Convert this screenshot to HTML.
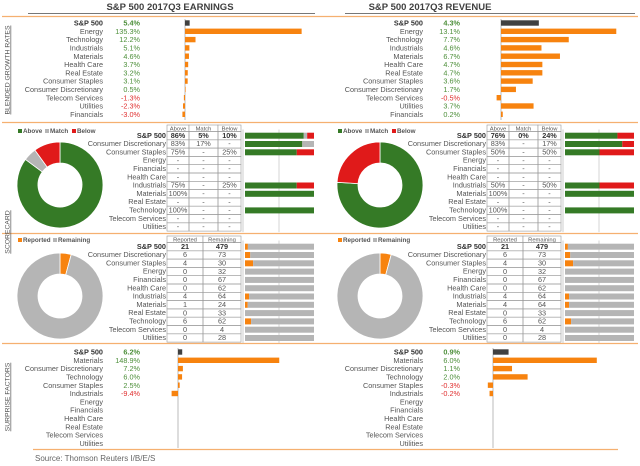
<!DOCTYPE html>
<html><head><meta charset="utf-8"><style>
html,body{margin:0;padding:0;background:#fff;width:640px;height:466px;overflow:hidden}
svg{display:block;font-family:"Liberation Sans",sans-serif}
</style></head><body>
<svg id="c" width="640" height="466" viewBox="0 0 640 466" xmlns="http://www.w3.org/2000/svg"></svg>
<script>
const growthLabels = ["S&P 500","Energy","Technology","Industrials","Materials","Health Care","Real Estate","Consumer Staples","Consumer Discretionary","Telecom Services","Utilities","Financials"];
const earnGrowth = [5.4,135.3,12.2,5.1,4.6,3.7,3.2,3.1,0.5,-1.3,-2.3,-3.0];
const revGrowth = [4.3,13.1,7.7,4.6,6.7,4.7,4.7,3.6,1.7,-0.5,3.7,0.2];
const scoreLabels = ["S&P 500","Consumer Discretionary","Consumer Staples","Energy","Financials","Health Care","Industrials","Materials","Real Estate","Technology","Telecom Services","Utilities"];
const earnAbove = [86,83,75,null,null,null,75,100,null,100,null,null];
const earnMatch = [5,17,null,null,null,null,null,null,null,null,null,null];
const earnBelow = [10,null,25,null,null,null,25,null,null,null,null,null];
const revAbove = [76,83,50,null,null,null,50,100,null,100,null,null];
const revMatch = [0,null,null,null,null,null,null,null,null,null,null,null];
const revBelow = [24,17,50,null,null,null,50,null,null,null,null,null];
const earnReported = [21,6,4,0,0,0,4,1,0,6,0,0];
const earnRemaining = [479,73,30,32,67,62,64,24,33,62,4,28];
const revReported = [21,6,4,0,0,0,4,4,0,6,0,0];
const revRemaining = [479,73,30,32,67,62,64,64,33,62,4,28];
const surpriseLabels = ["S&P 500","Materials","Consumer Discretionary","Technology","Consumer Staples","Industrials","Energy","Financials","Health Care","Real Estate","Telecom Services","Utilities"];
const earnSurprise = [6.2,148.9,7.2,6.0,2.5,-9.4,null,null,null,null,null,null];
const revSurprise = [0.9,6.0,1.1,2.0,-0.3,-0.2,null,null,null,null,null,null];

const NS="http://www.w3.org/2000/svg";
const svg=document.getElementById('c');
const ORANGE="#f7830f",DARK="#404040",GREEN="#357a26",RED="#e01a1a",GRAY="#b5b5b5",TXT="#555",TGREEN="#4d8f3a",TRED="#e03030";
const RH=8.3;
function mk(tag,attrs,parent){const e=document.createElementNS(NS,tag);for(const k in attrs)e.setAttribute(k,attrs[k]);(parent||svg).appendChild(e);return e;}
function txt(x,y,s,size,fill,anchor,weight,parent){const t=mk('text',{x:x,y:y,'font-size':size,fill:fill,'text-anchor':anchor||'start','font-weight':weight||'normal'},parent);t.textContent=s;return t;}
function fmt(v){return v.toFixed(1)+'%';}

// titles & separators
[[170,"S&P 500 2017Q3 EARNINGS",28,315],[430,"S&P 500 2017Q3 REVENUE",345,635]].forEach(function(d,i){
  const t=txt(d[0],10,d[1],9.5,DARK,'middle','bold');
  
  
  const l=mk('line',{x1:d[2],x2:d[3],y1:13.5,y2:13.5,stroke:'#777','stroke-width':1});
  
  
});
[[2,638,16.5],[2,638,122.5],[2,638,233.5],[2,638,343.5],[33,618,449.5]].forEach(function(d){
  const l=mk('line',{x1:d[0],x2:d[1],y1:d[2],y2:d[2],stroke:'#f5b070','stroke-width':1.2});
  
  
});
// vertical section labels
[["BLENDED GROWTH RATES",70,'growth-section-label'],["SCORECARD",232,'scorecard-section-label'],["SURPRISE FACTORS",397,'surprise-section-label']].forEach(function(d){
  const t=mk('text',{x:0,y:0,'font-size':6.8,fill:TXT,'text-anchor':'middle','text-decoration':'underline',transform:'translate(9.5,'+d[1]+') rotate(-90)'});
  t.textContent=d[0];
  
  
});

// diverging bar chart with labels/values
function barChart(ox,labels,vals,y0,axisX,scale,axisTop,axisBot,name){
  const g=mk('g',{});
  
  
  const ax=mk('line',{x1:axisX,x2:axisX,y1:axisTop,y2:axisBot,stroke:'#aaa','stroke-width':0.8},g);
  
  
  labels.forEach(function(lab,i){
    const cy=y0+i*RH;
    const lt=txt(ox+103,cy+2.6,lab,7.3,i?TXT:'#333','end',i?'normal':'bold',g);
    
    
    const v=vals[i];
    if(v===null)return;
    const vt=txt(ox+140,cy+2.6,fmt(v),7.3,v<0?TRED:TGREEN,'end',i?'normal':'bold',g);
    
    
    const w=Math.abs(v)*scale;
    const b=mk('rect',{x:v<0?axisX-w:axisX,y:cy-2.7,width:Math.max(w,0.6),height:5.4,fill:i?ORANGE:DARK},g);
    
    
  });
}
barChart(0,growthLabels,earnGrowth,23,185,0.862,19,120,'earnings-growth-chart');
barChart(320,growthLabels,revGrowth,23,501,8.8,19,120,'revenue-growth-chart');
barChart(0,surpriseLabels,earnSurprise,352,178,0.68,348,448,'earnings-surprise-chart');
barChart(320,surpriseLabels,revSurprise,352,493,17.3,348,448,'revenue-surprise-chart');

// donut
function donut(cx,cy,vals,colors,name){
  const g=mk('g',{});
  
  
  const tot=vals.reduce(function(a,b){return a+b;},0);
  let a0=-Math.PI/2;const R=43,r=22;
  vals.forEach(function(v,i){
    if(v<=0)return;
    const a1=a0+v/tot*2*Math.PI;const lg=(a1-a0)>Math.PI?1:0;
    const p=['M',cx+R*Math.cos(a0),cy+R*Math.sin(a0),'A',R,R,0,lg,1,cx+R*Math.cos(a1),cy+R*Math.sin(a1),'L',cx+r*Math.cos(a1),cy+r*Math.sin(a1),'A',r,r,0,lg,0,cx+r*Math.cos(a0),cy+r*Math.sin(a0),'Z'].join(' ');
    const s=mk('path',{d:p,fill:colors[i],stroke:'#fff','stroke-width':0.8},g);
    
    
    a0=a1;
  });
}
function legend(x,y,items,name){
  const g=mk('g',{});
  
  
  let cx=x;
  items.forEach(function(it){
    const sq=mk('rect',{x:cx,y:y-4,width:4,height:4,fill:it[1]},g);
    
    
    const t=txt(cx+5,y,it[0],6.3,TXT,'start','bold',g);
    
    
    cx+=it[2];
  });
}
// table with bars
function table(ox,top,cols,headers,rows,fmtCell,barFn,name){
  const g=mk('g',{});
  
  
  const hy=top,ry=top+6.5;
  for(let c=0;c<headers.length;c++){
    const hr=mk('rect',{x:ox+cols[c],y:hy,width:cols[c+1]-cols[c],height:6.5,fill:'#fff',stroke:'#999','stroke-width':0.6},g);
    
    
    const ht=txt(ox+(cols[c]+cols[c+1])/2,hy+5.4,headers[c],5.8,TXT,'middle','normal',g);
    
    
  }
  const gl=mk('line',{x1:ox+243,x2:ox+243,y1:ry-2,y2:ry+12*RH+1,stroke:'#ccc','stroke-width':1},g);
  
  
  const gm=mk('line',{x1:ox+279,x2:ox+279,y1:ry-2,y2:ry+12*RH+1,stroke:'#ccc','stroke-width':0.8},g);
  
  
  scoreLabels.forEach(function(lab,i){
    const y=ry+i*RH;
    const lt=txt(ox+166,y+6.3,lab,7.3,i?TXT:'#333','end',i?'normal':'bold',g);
    
    
    for(let c=0;c<headers.length;c++){
      const cr=mk('rect',{x:ox+cols[c],y:y,width:cols[c+1]-cols[c],height:RH,fill:'none',stroke:'#999','stroke-width':0.6},g);
      
      
      const ct=txt(ox+(cols[c]+cols[c+1])/2,y+6.4,fmtCell(rows[c][i]),7.3,i?TXT:'#333','middle',i?'normal':'bold',g);
      
      
    }
    barFn(g,i,y+1.2);
  });
}
const BX=245,BW=69;
function stackBar(g,ox,y,parts,colors){
  const tot=parts.reduce(function(a,b){return a+(b||0);},0);
  if(!tot)return;
  let x=ox+BX;
  parts.forEach(function(p,j){
    if(!p)return;
    const w=p/tot*BW;
    const r=mk('rect',{x:x,y:y,width:w,height:6,fill:colors[j]},g);
    
    
    x+=w;
  });
}
function pct(v){return v===null?'-':v+'%';}
function num(v){return String(v);}

[[0,earnAbove,earnMatch,earnBelow,earnReported,earnRemaining,'earnings'],[320,revAbove,revMatch,revBelow,revReported,revRemaining,'revenue']].forEach(function(d){
  const ox=d[0];
  legend(ox+18,133,[["Above",GREEN,27],["Match",GRAY,27],["Below",RED,27]],d[6]+'-scorecard-legend');
  donut(ox+60,185,[d[1][0],d[2][0],d[3][0]],[GREEN,GRAY,RED],d[6]+'-scorecard-donut');
  table(ox,125,[167,189,218,241],["Above","Match","Below"],[d[1],d[2],d[3]],pct,function(g,i,y){stackBar(g,ox,y,[d[1][i],d[2][i],d[3][i]],[GREEN,GRAY,RED]);},d[6]+'-scorecard-table');
  legend(ox+18,242,[["Reported",ORANGE,35],["Remaining",GRAY,40]],d[6]+'-reported-legend');
  donut(ox+60,296,[d[4][0],d[5][0]],[ORANGE,GRAY],d[6]+'-reported-donut');
  table(ox,236,[167,203,241],["Reported","Remaining"],[d[4],d[5]],num,function(g,i,y){stackBar(g,ox,y,[d[4][i],d[5][i]],[ORANGE,GRAY]);},d[6]+'-reported-table');
});

const src=txt(35,461,"Source: Thomson Reuters I/B/E/S",8,'#666','start','normal');


</script>
</body></html>
